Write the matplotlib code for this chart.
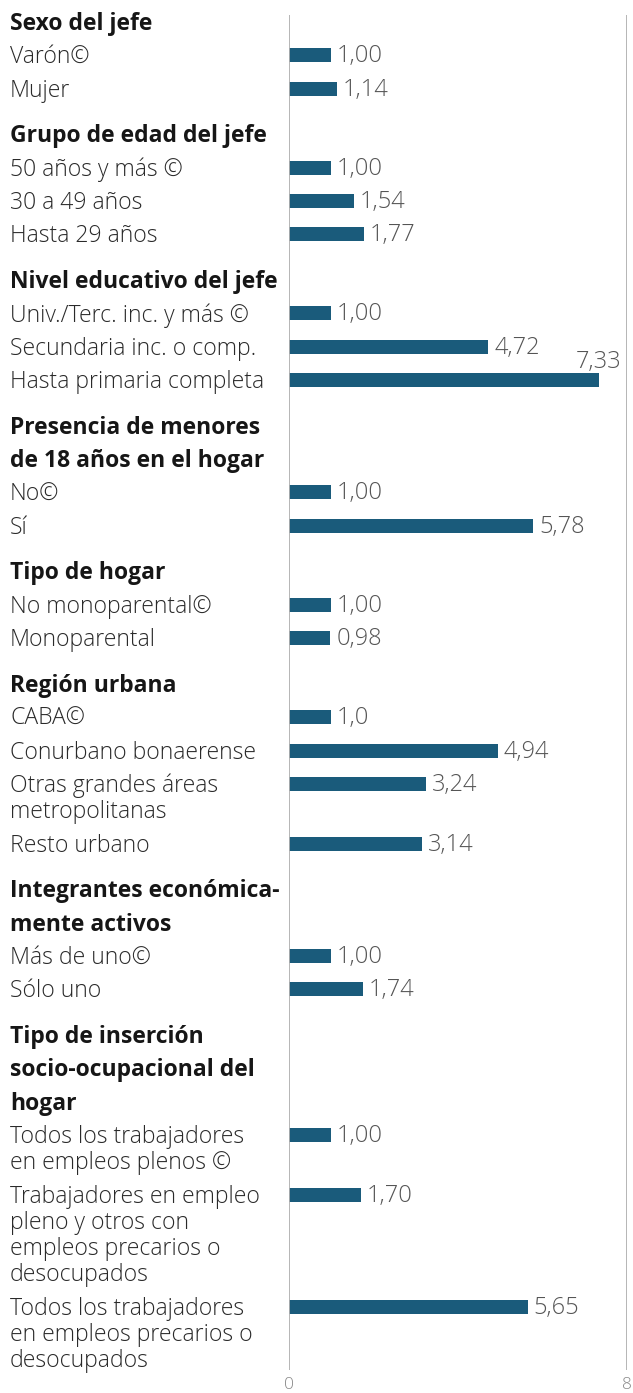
import matplotlib
matplotlib.use("Agg")
import matplotlib.pyplot as plt
import matplotlib.transforms as mtransforms

plt.rcParams['font.family'] = ['Open Sans', 'DejaVu Sans']

# group titles (one entry per line)
grupos = [
    ["Sexo del jefe"],
    ["Grupo de edad del jefe"],
    ["Nivel educativo del jefe"],
    ["Presencia de menores", "de 18 años en el hogar"],
    ["Tipo de hogar"],
    ["Región urbana"],
    ["Integrantes económica-", "mente activos"],
    ["Tipo de inserción", "socio-ocupacional del", "hogar"],
]

categorias = [
    [["Varón©"], ["Mujer"]],
    [["50 años y más ©"], ["30 a 49 años"], ["Hasta 29 años"]],
    [["Univ./Terc. inc. y más ©"], ["Secundaria inc. o comp."], ["Hasta primaria completa"]],
    [["No©"], ["Sí"]],
    [["No monoparental©"], ["Monoparental"]],
    [["CABA©"], ["Conurbano bonaerense"], ["Otras grandes áreas", "metropolitanas"], ["Resto urbano"]],
    [["Más de uno©"], ["Sólo uno"]],
    [["Todos los trabajadores", "en empleos plenos ©"],
     ["Trabajadores en empleo", "pleno y otros con", "empleos precarios o", "desocupados"],
     ["Todos los trabajadores", "en empleos precarios o", "desocupados"]],
]

valores = [
    [1.00, 1.14],
    [1.00, 1.54, 1.77],
    [1.00, 4.72, 7.33],
    [1.00, 5.78],
    [1.00, 0.98],
    [1.0, 4.94, 3.24, 3.14],
    [1.00, 1.74],
    [1.00, 1.70, 5.65],
]

etiquetas = [
    ["1,00", "1,14"],
    ["1,00", "1,54", "1,77"],
    ["1,00", "4,72", "7,33"],
    ["1,00", "5,78"],
    ["1,00", "0,98"],
    ["1,0", "4,94", "3,24", "3,14"],
    ["1,00", "1,74"],
    ["1,00", "1,70", "5,65"],
]

W, H = 633, 1393
color_barra = '#1a5b7b'
fs = 16.6
fs_titulo = 16.5
fs_valor = 17

fig = plt.figure(figsize=(W / 100, H / 100), dpi=100)
ax = fig.add_axes([289 / W, 0, 338 / W, 1])
ax.set_xlim(0, 8)
ax.set_ylim(H, 0)
ax.axis('off')

trans = mtransforms.blended_transform_factory(fig.transFigure, ax.transData)

# layout (pixel rows from top)
y = 22
paso = 33.35
sub = 26.3
hueco = 12.3
dy = 2  # text nudge
for g, titulo in enumerate(grupos):
    for linea in titulo:
        ax.text(10 / W, y + dy, linea, transform=trans, fontsize=fs_titulo, fontweight='bold',
                color='#161616', va='center', ha='left')
        y += paso
    for cat, v, et in zip(categorias[g], valores[g], etiquetas[g]):
        ax.barh(y, v, height=14, color=color_barra, left=0)
        if v > 7:
            ax.text(v, y - 18, et, fontsize=fs_valor, fontweight='light', color='#555555',
                    ha='center', va='center')
        else:
            ax.text(v + 0.14, y + 1, et, fontsize=fs_valor, fontweight='light', color='#555555',
                    ha='left', va='center')
        for k, linea in enumerate(cat):
            ax.text(10 / W, y + k * sub + dy, linea, transform=trans, fontsize=fs,
                    fontweight='light', color='#2a2a2a', va='center', ha='left')
        y += (len(cat) - 1) * sub + paso
    y += hueco

ax.vlines([0, 8], 15, 1370, color='#b0b0b0', lw=1.3)
for t in [0, 8]:
    ax.text(t, 1385, str(t), fontsize=12.5, fontweight='light', color='#888888',
            ha='center', va='center')

fig.savefig('out.png', dpi=100)
